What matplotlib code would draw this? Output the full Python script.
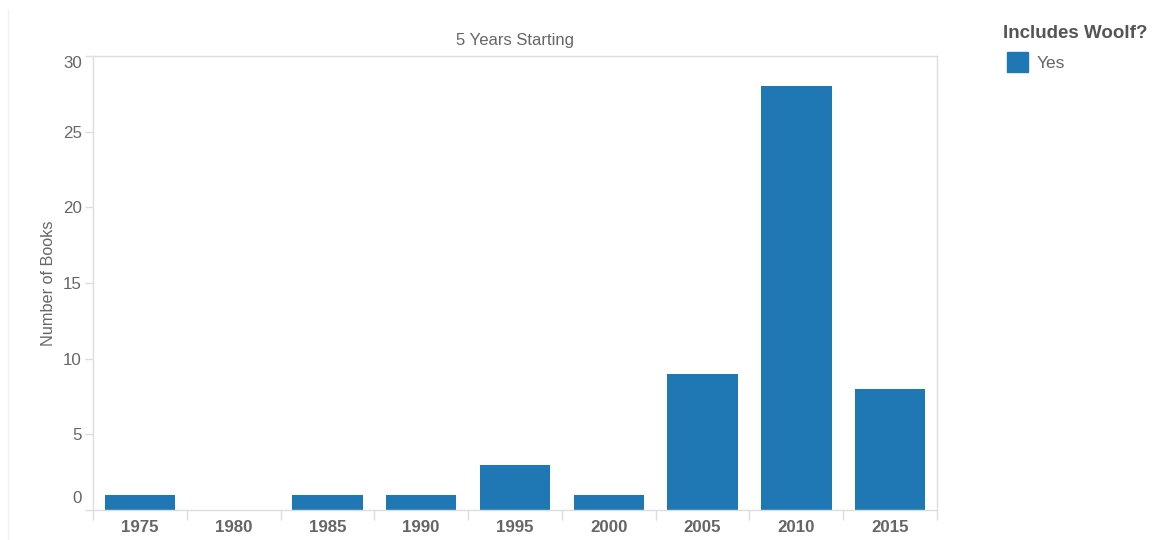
import matplotlib
matplotlib.use("Agg")
import matplotlib.pyplot as plt
from matplotlib.lines import Line2D
from matplotlib.patches import Rectangle
import matplotlib.transforms as mtransforms

plt.rcParams['font.family'] = ['Liberation Sans', 'DejaVu Sans']

years = ["1975", "1980", "1985", "1990", "1995", "2000", "2005", "2010", "2015"]
books = [1, 0, 1, 1, 3, 1, 9, 28, 8]
yticks = [0, 5, 10, 15, 20, 25, 30]

BAR = "#1f77b4"
GRID = "#dddddd"
TXT = "#666666"

fig = plt.figure(figsize=(11.53, 5.40), dpi=100)
ax = fig.add_axes([93/1153, 30/540, (937-93)/1153, (510-56)/540])

x = list(range(len(years)))
ax.bar(x, books, width=0.75, color=BAR, zorder=2)
ax.set_xlim(-0.5, len(years) - 0.5)
ax.set_ylim(0, 30)

for s in ax.spines.values():
    s.set_color(GRID)
    s.set_linewidth(1)

# x axis: labels at band centres, tick marks at band edges
ax.set_xticks(x)
ax.set_xticklabels(years, fontsize=12.2, fontweight='bold', color=TXT)
ax.tick_params(axis='x', which='major', length=0, pad=7)
ax.set_xticks([i - 0.5 for i in range(len(years) + 1)], minor=True)
ax.tick_params(axis='x', which='minor', length=7, color=GRID, width=1)

# y axis
ax.set_yticks(yticks)
ax.set_yticklabels([str(v) for v in yticks], fontsize=12.2, color=TXT)
ax.tick_params(axis='y', length=6, color=GRID, width=1, pad=2)
labs = ax.get_yticklabels()
labs[0].set_verticalalignment('bottom')
labs[0].set_transform(labs[0].get_transform() + mtransforms.ScaledTranslation(0, 4/100, fig.dpi_scale_trans))
labs[-1].set_verticalalignment('top')

ax.set_ylabel("Number of Books", fontsize=11.7, color=TXT, labelpad=5)
ax.set_title("5 Years Starting", fontsize=12, color=TXT, pad=8)

# legend
fig.text(1003/1153, 1 - 33/540, "Includes Woolf?", fontsize=13.5, fontweight='bold',
         color="#555555", ha='left', va='center')
fig.add_artist(Rectangle((1007/1153, 1 - 72/540), 21/1153, 20/540,
                         transform=fig.transFigure, color=BAR))
fig.text(1037/1153, 1 - 63/540, "Yes", fontsize=12.5, color=TXT, ha='left', va='center')

# faint left border
fig.add_artist(Line2D([7.5/1153, 7.5/1153], [0, 1 - 10/540], transform=fig.transFigure,
                      color="#f0f0f0", linewidth=1))

fig.savefig("out.png", dpi=100, facecolor='white')
